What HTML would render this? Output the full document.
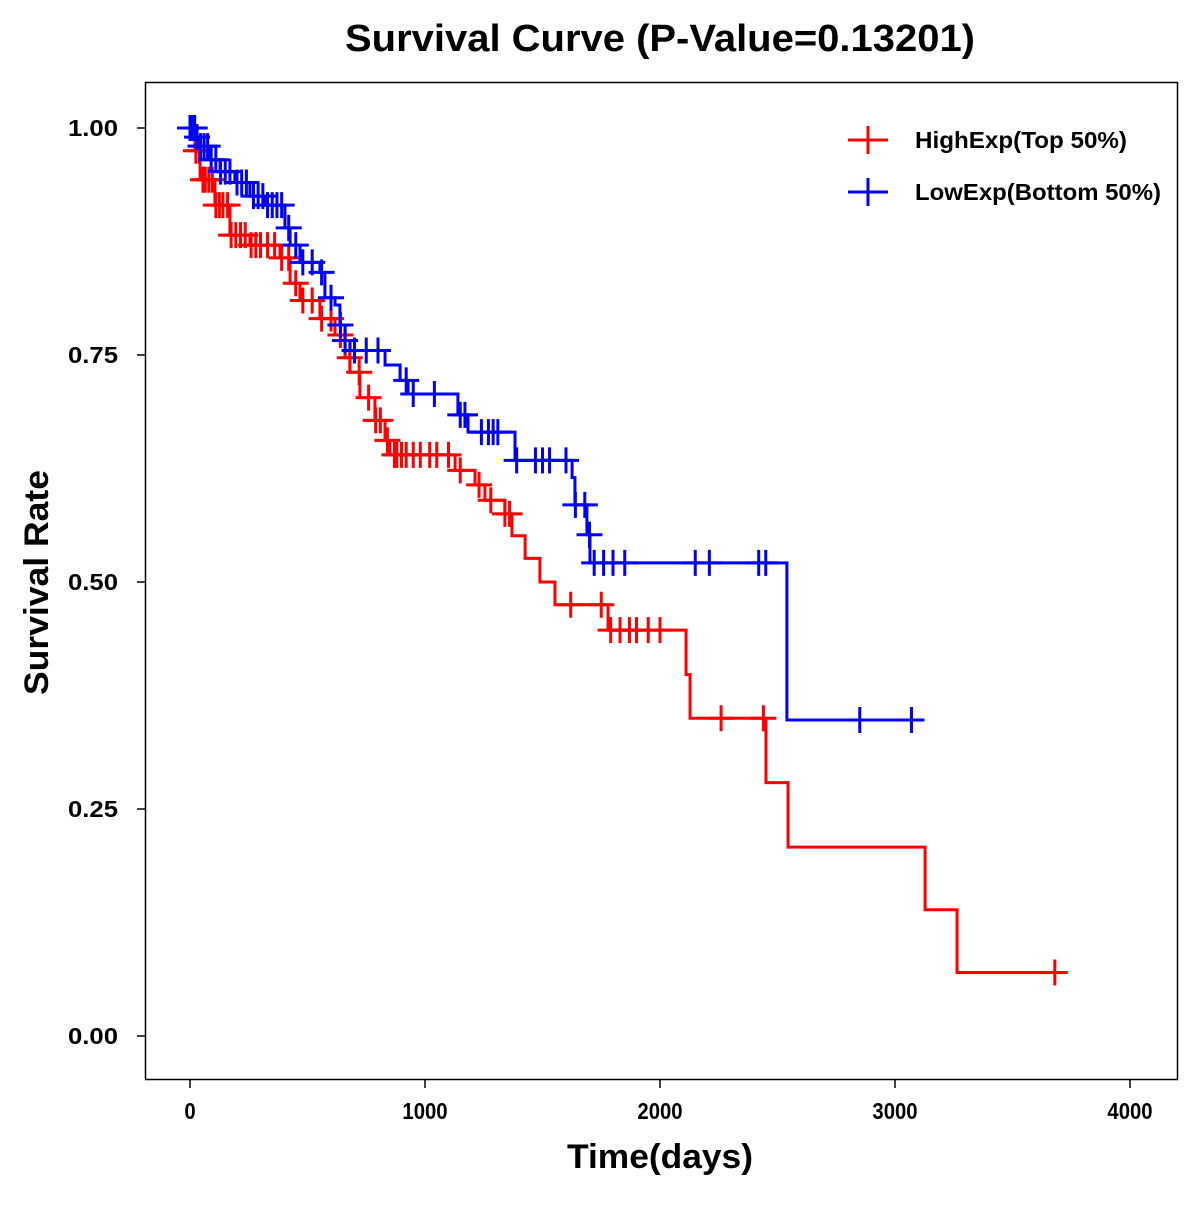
<!DOCTYPE html>
<html><head><meta charset="utf-8"><style>
html,body{margin:0;padding:0;background:#fff;}
svg text{font-family:"Liberation Sans",Arial,sans-serif;font-weight:bold;}
</style></head><body>
<svg id="chart" width="1200" height="1200" viewBox="0 0 1200 1200" xmlns="http://www.w3.org/2000/svg">
<rect x="0" y="0" width="1200" height="1200" fill="#fff"/>
<text x="345" y="51" font-size="38" textLength="630" lengthAdjust="spacingAndGlyphs">Survival Curve (P-Value=0.13201)</text>
<rect x="145.5" y="82.5" width="1032" height="997" fill="none" stroke="#000" stroke-width="1.5"/>
<g id="axes"></g>
<g id="series"></g>
<text x="567" y="1168" font-size="34" textLength="186" lengthAdjust="spacingAndGlyphs">Time(days)</text>
<text transform="translate(48,695) rotate(-90)" font-size="34" textLength="225" lengthAdjust="spacingAndGlyphs">Survival Rate</text>
<g>
<g>
<line x1="848" y1="140" x2="888" y2="140" stroke="#ff0000" stroke-width="3"/>
<line x1="868" y1="126" x2="868" y2="154" stroke="#ff0000" stroke-width="3"/>
<text x="915" y="148" font-size="23" textLength="212" lengthAdjust="spacingAndGlyphs">HighExp(Top 50%)</text>
</g>
<g>
<line x1="848" y1="192" x2="888" y2="192" stroke="#0000ff" stroke-width="3"/>
<line x1="868" y1="178" x2="868" y2="206" stroke="#0000ff" stroke-width="3"/>
<text x="915" y="200" font-size="23" textLength="246" lengthAdjust="spacingAndGlyphs">LowExp(Bottom 50%)</text>
</g>
</g>
</svg>
<script>
const xTicks=[0,1000,2000,3000,4000];
const yTicks=[0,0.25,0.5,0.75,1.0];
const yTickLabels=["0.00","0.25","0.50","0.75","1.00"];
const highTimes=[21,43,106,170,255,383,426,468,553,617,660,681,723,787,830,851,1128,1213,1255,1340,1370,1426,1489,1553,1779,2111,2128,2451,2545,3128,3264];
const highSurv=[0.975,0.943,0.915,0.882,0.871,0.857,0.829,0.81,0.79,0.772,0.747,0.731,0.703,0.678,0.656,0.64,0.623,0.607,0.59,0.575,0.551,0.526,0.5,0.475,0.447,0.398,0.35,0.279,0.208,0.139,0.07];
const highEnd=3702;
const highCensor=[5,15,25,40,55,65,80,95,110,125,140,160,175,195,215,235,260,280,300,330,360,390,420,450,480,520,560,600,640,680,720,760,790,810,840,870,880,900,920,950,980,1020,1050,1100,1150,1230,1280,1340,1360,1620,1750,1790,1830,1870,1900,1950,2000,2260,2440,3680];
const lowTimes=[21,43,85,128,191,255,319,404,426,468,553,574,617,638,660,681,830,894,928,1140,1183,1383,1626,1638,1689,1702,2540];
const lowSurv=[0.99,0.98,0.965,0.952,0.94,0.925,0.915,0.89,0.871,0.852,0.841,0.813,0.805,0.783,0.766,0.755,0.739,0.722,0.707,0.684,0.665,0.634,0.615,0.585,0.552,0.521,0.348];
const lowEnd=3106;
const lowCensor=[0,10,20,30,45,60,75,90,110,130,150,170,200,220,240,270,290,310,330,350,370,390,420,450,480,520,560,600,640,660,700,750,800,920,950,1040,1150,1170,1240,1270,1290,1310,1390,1470,1500,1530,1600,1640,1680,1700,1720,1760,1800,1850,2150,2210,2420,2450,2850,3070];

const NS="http://www.w3.org/2000/svg";
function sx(d){return 190+d*0.235;}
function sy(v){return 1036-v*908;}
function mk(tag,attrs,parent){const e=document.createElementNS(NS,tag);for(const k in attrs)e.setAttribute(k,attrs[k]);parent.appendChild(e);return e;}
const axes=document.getElementById('axes');
xTicks.forEach(t=>{
  const l=mk('line',{x1:sx(t),x2:sx(t),y1:1080,y2:1088,stroke:'#000','stroke-width':1.5},axes);
  
  
  const s=String(t);
  const w=s.length*11.3;
  const tx=mk('text',{x:sx(t)-w/2,y:1119,'font-size':23,textLength:w,lengthAdjust:'spacingAndGlyphs'},axes);
  tx.textContent=s;
  
  
});
yTicks.forEach((t,i)=>{
  const l=mk('line',{x1:137,x2:145,y1:sy(t),y2:sy(t),stroke:'#000','stroke-width':1.5},axes);
  
  
  const tx=mk('text',{x:68,y:sy(t)+8,'font-size':23,textLength:50,lengthAdjust:'spacingAndGlyphs'},axes);
  tx.textContent=yTickLabels[i];
  
  
});
function survAt(times,surv,t){let s=1;for(let i=0;i<times.length;i++){if(times[i]<=t)s=surv[i];}return s;}
function drawSeries(times,surv,end,cens,color,name){
  const g=mk('g',{},document.getElementById('series'));
  
  
  let d='M'+sx(0)+','+sy(1);
  for(let i=0;i<times.length;i++){d+=' H'+sx(times[i])+' V'+sy(surv[i]);}
  d+=' H'+sx(end);
  const p=mk('path',{d:d,fill:'none',stroke:color,'stroke-width':3},g);
  
  
  cens.forEach(c=>{
    const v=survAt(times,surv,c);const x=sx(c),y=sy(v);
    const m=mk('path',{d:'M'+(x-13)+','+y+' H'+(x+13)+' M'+x+','+(y-13)+' V'+(y+13),stroke:color,'stroke-width':3,fill:'none'},g);
    
    
  });
}
drawSeries(highTimes,highSurv,highEnd,highCensor,'#ff0000','high-exp');
drawSeries(lowTimes,lowSurv,lowEnd,lowCensor,'#0000ff','low-exp');
</script>
</body></html>
